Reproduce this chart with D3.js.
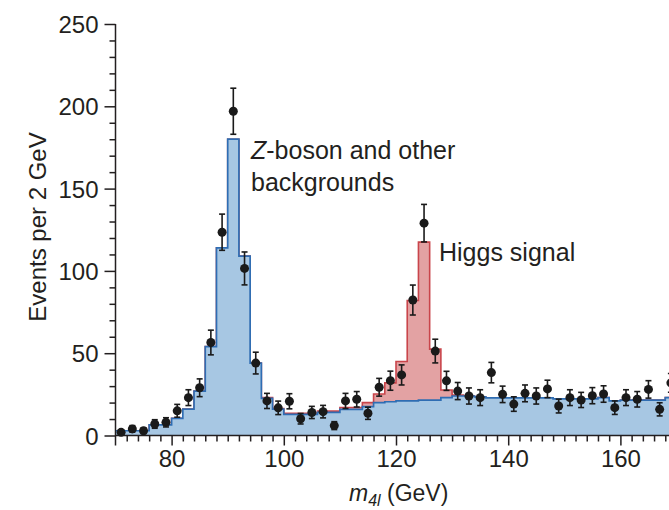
<!DOCTYPE html>
<html>
<head>
<meta charset="utf-8">
<script src="https://cdn.jsdelivr.net/npm/d3@7"></script>
<style>
  html, body { margin: 0; padding: 0; background: #ffffff; }
  svg { display: block; }
  text { font-family: "Liberation Sans", Arial, Helvetica, sans-serif; fill: #231f20; }
</style>
</head>
<body>
<svg id="chart" width="669" height="510"></svg>
<script>
// ---- data ----
const binStart = d3.range(70, 170, 2);       // 2 GeV bins, 70..170
const binWidth = 2;
// Z-boson and other backgrounds (blue histogram)
const background = [
  2.9, 2.9, 2.9, 6.4, 6.4, 10.4, 16, 27, 54, 114,
  180, 109, 44, 22.6, 16, 12.8, 12.8, 12.8, 14, 14,
  15.9, 15.9, 17.5, 20, 20.5, 21, 21, 21.5, 21.5, 23,
  24, 24, 23.5, 22.8, 22.8, 22.8, 22.8, 22.8, 22.8, 22.3,
  22.3, 22.3, 22.3, 23, 21, 21.5, 21.5, 21.5, 21.5, 23
];
// Higgs signal stacked on top (red)
const signal = [
  0, 0, 0, 0, 0, 0, 0, 0, 0, 0,
  0, 0, 0, 0.5, 0.3, 0.7, 0.7, 0.7, 0.8, 0.8,
  1.1, 1.1, 2.5, 5.2, 11.5, 24, 61, 96, 31, 4.6,
  0.5, 0, 0, 0, 0, 0, 0, 0, 0, 0,
  0, 0, 0, 0, 0, 0, 0, 0, 0, 0
];
// observed events (black points)
const observed = [
  1.9, 4, 2.9, 7, 8, 15, 23, 29, 56.5, 123.5,
  197, 101.5, 44, 21, 16.8, 20.8, 10.2, 14, 14.5, 6,
  21, 22, 13.5, 29.3, 33.3, 36.8, 82.3, 129, 51.3, 33.2,
  27, 24, 23, 38.2, 25, 19.1, 25.6, 24, 28.3, 17.9,
  23, 21.6, 24.2, 25.2, 16.9, 23, 22, 28, 15.9, 32
];
const obsError = [
  1.4, 2, 1.7, 2.6, 2.8, 3.9, 4.8, 5.4, 7.5, 11,
  14, 10, 6.6, 4.6, 4.1, 4.6, 3.2, 3.7, 3.8, 2.4,
  4.6, 4.7, 3.7, 5.4, 5.8, 6.1, 9.1, 11.4, 7.2, 5.8,
  5.2, 4.9, 4.8, 6.2, 5, 4.4, 5.1, 4.9, 5.3, 4.2,
  4.8, 4.6, 4.9, 5, 4.1, 4.8, 4.7, 5.3, 4, 5.7
];
const yTicks = [0, 50, 100, 150, 200, 250];
const xTicks = [80, 100, 120, 140, 160];

// ---- scales ----
const svg = d3.select("#chart");
const x = d3.scaleLinear().domain([70, 170]).range([115.5, 676.5]);
const y = d3.scaleLinear().domain([0, 250]).range([435.5, 24]);

const blueFill = "#a7c7e3", blueLine = "#2f6db3";
const redFill = "#e3a2a3", redLine = "#c9454b";

function stepData(vals) {
  const pts = binStart.map((s, i) => ({ x: s, v: vals[i] }));
  pts.push({ x: binStart[binStart.length - 1] + binWidth, v: vals[vals.length - 1] });
  return pts;
}
const total = background.map((b, i) => b + signal[i]);

const area = d3.area().curve(d3.curveStepAfter)
  .x(d => x(d.x)).y0(y(0)).y1(d => y(d.v));
const line = d3.line().curve(d3.curveStepAfter)
  .x(d => x(d.x)).y(d => y(d.v));

// red (signal + background)
svg.append("path").datum(stepData(total)).attr("d", area).attr("fill", redFill);
svg.append("path").datum(stepData(total)).attr("d", line)
  .attr("fill", "none").attr("stroke", redLine).attr("stroke-width", 1.6);
// blue (background)
svg.append("path").datum(stepData(background)).attr("d", area).attr("fill", blueFill);
svg.append("path").datum(stepData(background)).attr("d", line)
  .attr("fill", "none").attr("stroke", blueLine).attr("stroke-width", 1.7);

// ---- axes ----
const axisColor = "#231f20";
// y axis
const yAxis = svg.append("g").attr("transform", `translate(${x(70)},0)`);
yAxis.call(d3.axisLeft(y).tickValues(d3.range(0, 251, 10)).tickSize(6).tickFormat(""));
yAxis.call(g => g.selectAll(".tick").filter(d => yTicks.includes(d)).select("line").attr("x2", -11));
yAxis.selectAll(".tick").filter(d => yTicks.includes(d)).append("text")
  .attr("x", -17).attr("dy", "0.36em").attr("text-anchor", "end")
  .attr("font-size", 24).text(d => d);
yAxis.select(".domain").remove();
yAxis.append("line").attr("x1", 0).attr("x2", 0).attr("y1", y(250)).attr("y2", y(0) + 10);
yAxis.selectAll("line").attr("stroke", axisColor).attr("stroke-width", 1.5);

// x axis
const xAxis = svg.append("g").attr("transform", `translate(0,${y(0)})`);
xAxis.call(d3.axisBottom(x).tickValues(d3.range(72, 171, 2)).tickSize(6).tickFormat(""));
xAxis.call(g => g.selectAll(".tick").filter(d => xTicks.includes(d)).select("line").attr("y2", 10));
xAxis.selectAll(".tick").filter(d => xTicks.includes(d)).append("text")
  .attr("y", 31).attr("text-anchor", "middle").attr("font-size", 24).text(d => d);
xAxis.select(".domain").remove();
xAxis.append("line").attr("x1", x(70)).attr("x2", x(170)).attr("y1", 0).attr("y2", 0);
xAxis.selectAll("line").attr("stroke", axisColor).attr("stroke-width", 1.5);

// ---- observed points ----
const pts = svg.append("g");
binStart.forEach((s, i) => {
  const cx = x(s + binWidth / 2), v = observed[i], e = obsError[i];
  const g = pts.append("g").attr("stroke", "#1a1a1a").attr("stroke-width", 1.6);
  g.append("line").attr("x1", cx).attr("x2", cx).attr("y1", y(v + e)).attr("y2", y(v - e));
  g.append("line").attr("x1", cx - 3).attr("x2", cx + 3).attr("y1", y(v + e)).attr("y2", y(v + e));
  g.append("line").attr("x1", cx - 3).attr("x2", cx + 3).attr("y1", y(v - e)).attr("y2", y(v - e));
  pts.append("circle").attr("cx", cx).attr("cy", y(v)).attr("r", 4.5).attr("fill", "#1a1a1a");
});

// ---- labels ----
const zl = svg.append("text").attr("x", 251).attr("y", 159).attr("font-size", 25);
zl.append("tspan").attr("font-style", "italic").text("Z");
zl.append("tspan").text("-boson and other");
svg.append("text").attr("x", 251).attr("y", 191).attr("font-size", 25).text("backgrounds");
svg.append("text").attr("x", 439).attr("y", 261).attr("font-size", 25).text("Higgs signal");

svg.append("text").attr("transform", "translate(46,227) rotate(-90)")
  .attr("text-anchor", "middle").attr("font-size", 24).text("Events per 2 GeV");

const xl = svg.append("text").attr("x", 349).attr("y", 501).attr("font-size", 23);
xl.append("tspan").attr("font-style", "italic").text("m");
xl.append("tspan").attr("font-style", "italic").attr("font-size", 16).attr("dy", 5).text("4l");
xl.append("tspan").attr("dy", -5).text(" (GeV)");
</script>
</body>
</html>
